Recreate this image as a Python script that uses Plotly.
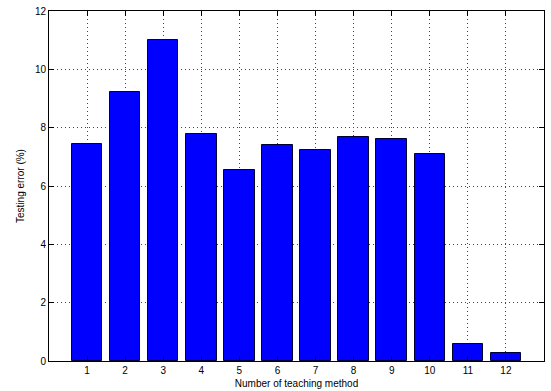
import plotly.graph_objects as go

methods = list(range(1, 13))
errors = [7.45, 9.22, 11.0, 7.78, 6.55, 7.42, 7.22, 7.67, 7.6, 7.1, 0.57, 0.26]
y_ticks = [0, 2, 4, 6, 8, 10, 12]

fig = go.Figure()
fig.add_trace(go.Bar(
    x=methods, y=errors, width=0.8,
    marker=dict(color="#0000FF", line=dict(color="#000033", width=1)),
))

font = dict(family="Liberation Sans, Arial, sans-serif", size=10, color="#000000")

fig.update_layout(
    width=551, height=391,
    margin=dict(l=49, r=7, t=11, b=30),
    paper_bgcolor="white", plot_bgcolor="white",
    showlegend=False,
    font=font,
    bargap=0,
)
fig.update_xaxes(
    range=[0, 13], tickvals=methods, ticktext=[str(m) for m in methods],
    showline=True, linecolor="black", linewidth=1, mirror="ticks",
    ticks="inside", ticklen=5, tickcolor="black",
    showgrid=True, gridcolor="#444444", griddash="1px,3px", gridwidth=1,
    zeroline=False, automargin=False,
    title=dict(text="Number of teaching method", font=font, standoff=4),
)
fig.update_yaxes(
    range=[0, 12], tickvals=y_ticks, ticktext=[str(v) for v in y_ticks],
    showline=True, linecolor="black", linewidth=1, mirror="ticks",
    ticks="inside", ticklen=5, tickcolor="black",
    showgrid=True, gridcolor="#444444", griddash="1px,3px", gridwidth=1,
    zeroline=False, automargin=False,
    title=dict(text="Testing error (%)", font=font, standoff=8),
)

fig.write_html("out.html")
